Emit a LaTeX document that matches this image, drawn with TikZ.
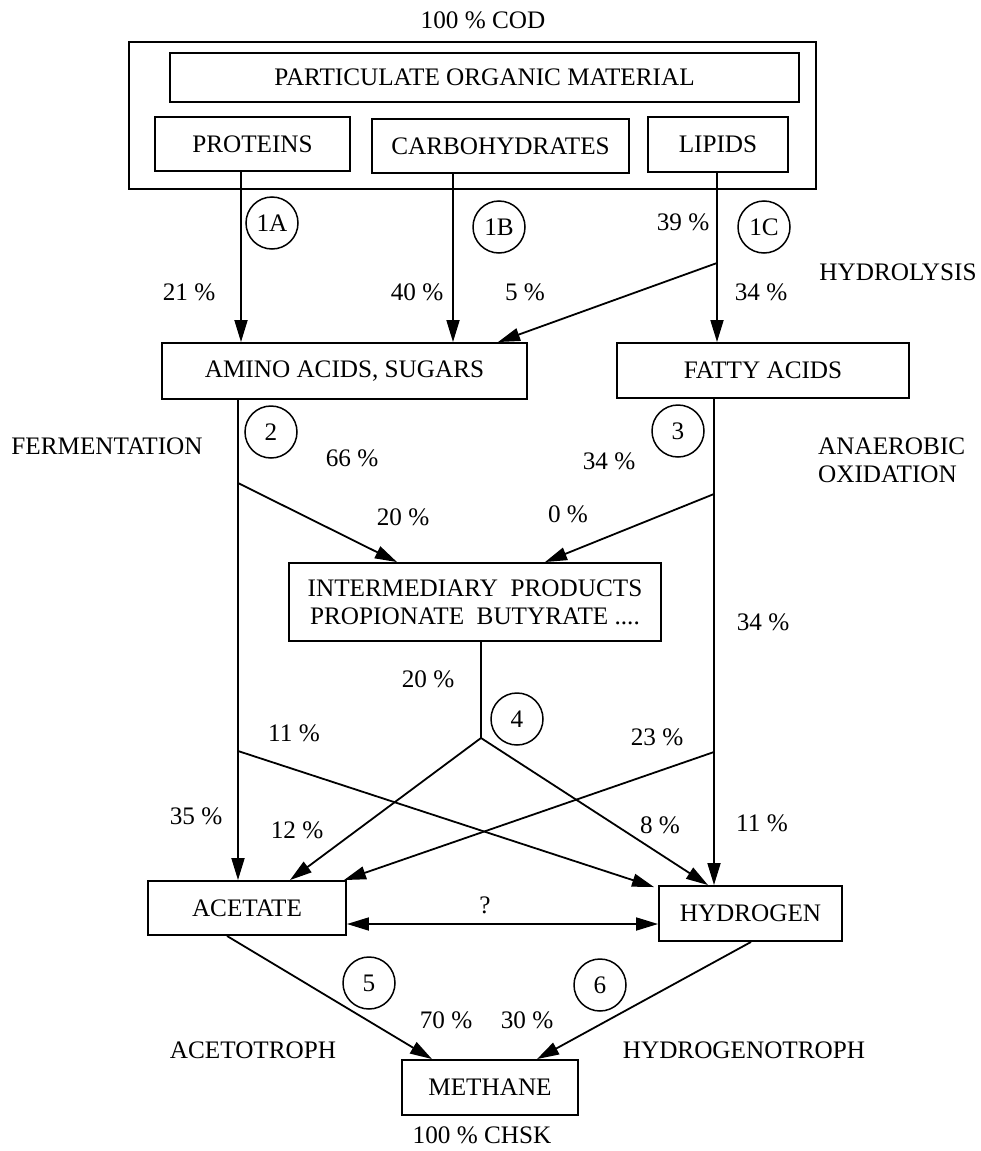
\documentclass[tikz,border=0pt]{standalone}
\usepackage{fontspec}
\setmainfont{Liberation Serif}
\usetikzlibrary{arrows.meta}
\begin{document}
\begin{tikzpicture}[x=1pt,y=-1pt,
  every node/.style={font=\fontsize{25.2}{28}\selectfont},
  box/.style={draw,line width=1.9pt,inner sep=0pt},
  ln/.style={line width=1.8pt},
  arr/.style={ln,-{Triangle[length=22pt,width=13pt]}},
  darr/.style={ln,{Triangle[length=22pt,width=13pt]}-{Triangle[length=22pt,width=13pt]}},
  num/.style={draw,circle,line width=1.5pt,minimum size=52pt,inner sep=0pt},
  lbl/.style={inner sep=0pt}]
\useasboundingbox (0,0) rectangle (980,1151);

% boxes
\node[box,minimum width=687pt,minimum height=147pt] (outer) at (472.5,115.5) {};
\node[box,minimum width=629pt,minimum height=49pt] (part) at (484.5,77.5) {PARTICULATE ORGANIC MATERIAL};
\node[box,minimum width=195pt,minimum height=54pt] (prot) at (252.5,144) {PROTEINS};
\node[box,minimum width=257pt,minimum height=54pt] (carb) at (500.5,146) {CARBOHYDRATES};
\node[box,minimum width=140pt,minimum height=55pt] (lip) at (718,144.5) {LIPIDS};
\node[box,minimum width=365pt,minimum height=56pt] (amino) at (344.5,371) {AMINO ACIDS, SUGARS};
\node[box,minimum width=292pt,minimum height=55pt] (fatty) at (763,370.5) {FATTY ACIDS};
\node[box,minimum width=372pt,minimum height=78pt,align=center] (inter) at (475,602)
  {INTERMEDIARY\ \ PRODUCTS\\PROPIONATE\ \ BUTYRATE ....};
\node[box,minimum width=198pt,minimum height=54pt] (acet) at (247,908) {ACETATE};
\node[box,minimum width=183pt,minimum height=55pt] (hyd) at (750.5,913.5) {HYDROGEN};
\node[box,minimum width=176pt,minimum height=55pt] (meth) at (490,1087.5) {METHANE};

% helper coordinates
\coordinate (xA) at (241,0);
\coordinate (xB) at (453,0);
\coordinate (xC) at (717,0);
\coordinate (x2) at (238,0);
\coordinate (x3) at (714,0);
\coordinate (x4) at (481,0);
\coordinate (tC) at (498,0);
\coordinate (t2a) at (397,0);
\coordinate (t3a) at (545,0);
\coordinate (t4a) at (290,0);
\coordinate (t4b) at (708,0);
\coordinate (mA) at (227,0);
\coordinate (mM1) at (432,0);
\coordinate (mH) at (751,0);
\coordinate (mM2) at (537,0);
\coordinate (yq) at (0,924);
\coordinate (jC) at (717,263);
\coordinate (j2a) at (238,483);
\coordinate (j2b) at (238,751);
\coordinate (j3a) at (714,494);
\coordinate (j3b) at (714,752);
\coordinate (j4) at (481,738);

% connectors
\draw[arr] (prot.south -| xA) -- (amino.north -| xA);
\draw[arr] (carb.south -| xB) -- (amino.north -| xB);
\draw[arr] (lip.south -| xC) -- (fatty.north -| xC);
\draw[arr] (jC) -- (amino.north -| tC);
\draw[arr] (amino.south -| x2) -- (acet.north -| x2);
\draw[arr] (j2a) -- (inter.north -| t2a);
\draw[arr] (j2b) -- ([xshift=-4pt,yshift=-2pt]hyd.north west);
\draw[arr] (fatty.south -| x3) -- (hyd.north -| x3);
\draw[arr] (j3a) -- (inter.north -| t3a);
\draw[arr] (j3b) -- ([xshift=-3pt]acet.north east);
\draw[ln] (inter.south -| x4) -- (j4);
\draw[arr] (j4) -- (acet.north -| t4a);
\draw[arr] (j4) -- (hyd.north -| t4b);
\draw[darr] (acet.east |- yq) -- (hyd.west |- yq);
\draw[arr] (acet.south -| mA) -- (meth.north -| mM1);
\draw[arr] (hyd.south -| mH) -- (meth.north -| mM2);

% step circles
\node[num] (c1a) at (272,223) {1A};
\node[num] (c1b) at (499,227) {1B};
\node[num] (c1c) at (764,227) {1C};
\node[num] (c2) at (271,432) {2};
\node[num] (c3) at (678,431) {3};
\node[num] (c4) at (517,719) {4};
\node[num] (c5) at (369,983) {5};
\node[num] (c6) at (600,985) {6};

% labels
\node[lbl] (cod) at (483,20) {100 \% COD};
\node[lbl] (p21) at (189,292) {21 \%};
\node[lbl] (p40) at (417,292) {40 \%};
\node[lbl] (p5) at (525,292) {5 \%};
\node[lbl] (p39) at (683,222) {39 \%};
\node[lbl] (p34a) at (761,292) {34 \%};
\node[lbl] (hydro) at (898,272) {HYDROLYSIS};
\node[lbl] (ferm) at (107,446) {FERMENTATION};
\node[lbl,anchor=west,align=left] (anox) at (818,460) {ANAEROBIC\\OXIDATION};
\node[lbl] (p66) at (352,458) {66 \%};
\node[lbl] (p34b) at (609,461) {34 \%};
\node[lbl] (p20a) at (403,517) {20 \%};
\node[lbl] (p0) at (568,514) {0 \%};
\node[lbl] (p34c) at (763,622) {34 \%};
\node[lbl] (p20b) at (428,679) {20 \%};
\node[lbl] (p11a) at (294,733) {11 \%};
\node[lbl] (p23) at (657,737) {23 \%};
\node[lbl] (p35) at (196,816) {35 \%};
\node[lbl] (p12) at (297,830) {12 \%};
\node[lbl] (p8) at (660,825) {8 \%};
\node[lbl] (p11b) at (762,823) {11 \%};
\node[lbl] (q) at (485,905) {?};
\node[lbl] (p70) at (446,1020) {70 \%};
\node[lbl] (p30) at (527,1020) {30 \%};
\node[lbl] (aceto) at (253,1050) {ACETOTROPH};
\node[lbl] (hydgt) at (744,1050) {HYDROGENOTROPH};
\node[lbl] (chsk) at (482,1135) {100 \% CHSK};
\end{tikzpicture}
\end{document}
